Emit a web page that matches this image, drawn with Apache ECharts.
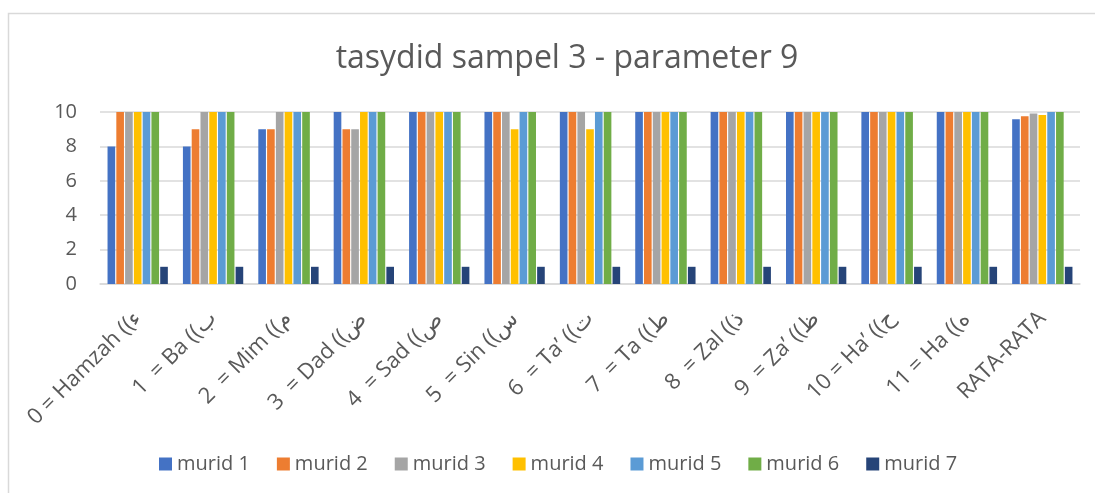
<!DOCTYPE html>
<html>
<head>
<meta charset="utf-8">
<script src="https://cdn.jsdelivr.net/npm/echarts@6/dist/echarts.min.js"></script>
<style>
html,body{margin:0;padding:0;background:#fff;}
#chart{width:1095px;height:493px;}
</style>
</head>
<body>
<div id="chart"></div>
<script>
const categories = [
  "0 = Hamzah ((ء",
  "1  = Ba ((ب",
  "2  = Mim ((م",
  "3  = Dad ((ض",
  "4  = Sad ((ص",
  "5  = Sin ((س",
  "6  = Ta’ ((ت",
  "7  = Ta ((ط",
  "8  = Zal ((ذ",
  "9  = Za’ ((ظ",
  "10 = Ha’ ((ح",
  "11 = Ha ((ه",
  "RATA-RATA"
];
const seriesNames = ["murid 1","murid 2","murid 3","murid 4","murid 5","murid 6","murid 7"];
const murid1 = [8, 8, 9, 10, 10, 10, 10, 10, 10, 10, 10, 10, 9.58];
const murid2 = [10, 9, 9, 9, 10, 10, 10, 10, 10, 10, 10, 10, 9.75];
const murid3 = [10, 10, 10, 9, 10, 10, 10, 10, 10, 10, 10, 10, 9.92];
const murid4 = [10, 10, 10, 10, 10, 9, 9, 10, 10, 10, 10, 10, 9.83];
const murid5 = [10, 10, 10, 10, 10, 10, 10, 10, 10, 10, 10, 10, 10];
const murid6 = [10, 10, 10, 10, 10, 10, 10, 10, 10, 10, 10, 10, 10];
const murid7 = [1, 1, 1, 1, 1, 1, 1, 1, 1, 1, 1, 1, 1];
const yTicks = [0, 2, 4, 6, 8, 10];
const titleText = "tasydid sampel 3 - parameter 9";

const colors = ["#4472C4","#ED7D31","#A5A5A5","#FFC000","#5B9BD5","#70AD47","#264478"];
const allData = [murid1, murid2, murid3, murid4, murid5, murid6, murid7];
const FONT = "Open Sans";
const TXT = "#595959";

const chart = echarts.init(document.getElementById('chart'), null, {renderer:'canvas'});
chart.setOption({
  animation: false,
  backgroundColor: '#ffffff',
  color: colors,
  graphic: [{
    type: 'rect',
    shape: {x: 8.5, y: 13.5, width: 1200, height: 600},
    style: {fill: 'none', stroke: '#d9d9d9', lineWidth: 1.5},
    silent: true, z: -1
  }],
  title: {
    text: titleText,
    left: 562,
    textAlign: 'center',
    top: 38,
    textStyle: {fontFamily: FONT, fontSize: 32, fontWeight: 'normal', color: TXT}
  },
  legend: {
    data: seriesNames,
    left: 154,
    top: 449,
    itemWidth: 13,
    itemHeight: 13,
    itemGap: 27,
    icon: 'rect',
    textStyle: {fontFamily: FONT, fontSize: 20, color: TXT}
  },
  grid: {left: 100, right: 15, top: 112, bottom: 209, containLabel: false},
  xAxis: {
    type: 'category',
    data: categories,
    axisTick: {show: false},
    axisLine: {lineStyle: {color: '#d9d9d9', width: 1.5}},
    axisLabel: {
      interval: 0, rotate: 45, margin: 31,
      fontFamily: FONT, fontSize: 22, color: TXT
    }
  },
  yAxis: {
    type: 'value',
    min: yTicks[0],
    max: yTicks[yTicks.length-1],
    interval: 2,
    axisLine: {show: false},
    axisTick: {show: false},
    splitLine: {lineStyle: {color: '#d9d9d9', width: 1.5}},
    axisLabel: {margin: 23, fontFamily: FONT, fontSize: 20, color: TXT}
  },
  series: seriesNames.map((n, i) => ({
    name: n,
    type: 'bar',
    data: allData[i],
    barGap: '15%',
    barCategoryGap: '20%',
    itemStyle: {color: colors[i]}
  }))
});
</script>
</body>
</html>
